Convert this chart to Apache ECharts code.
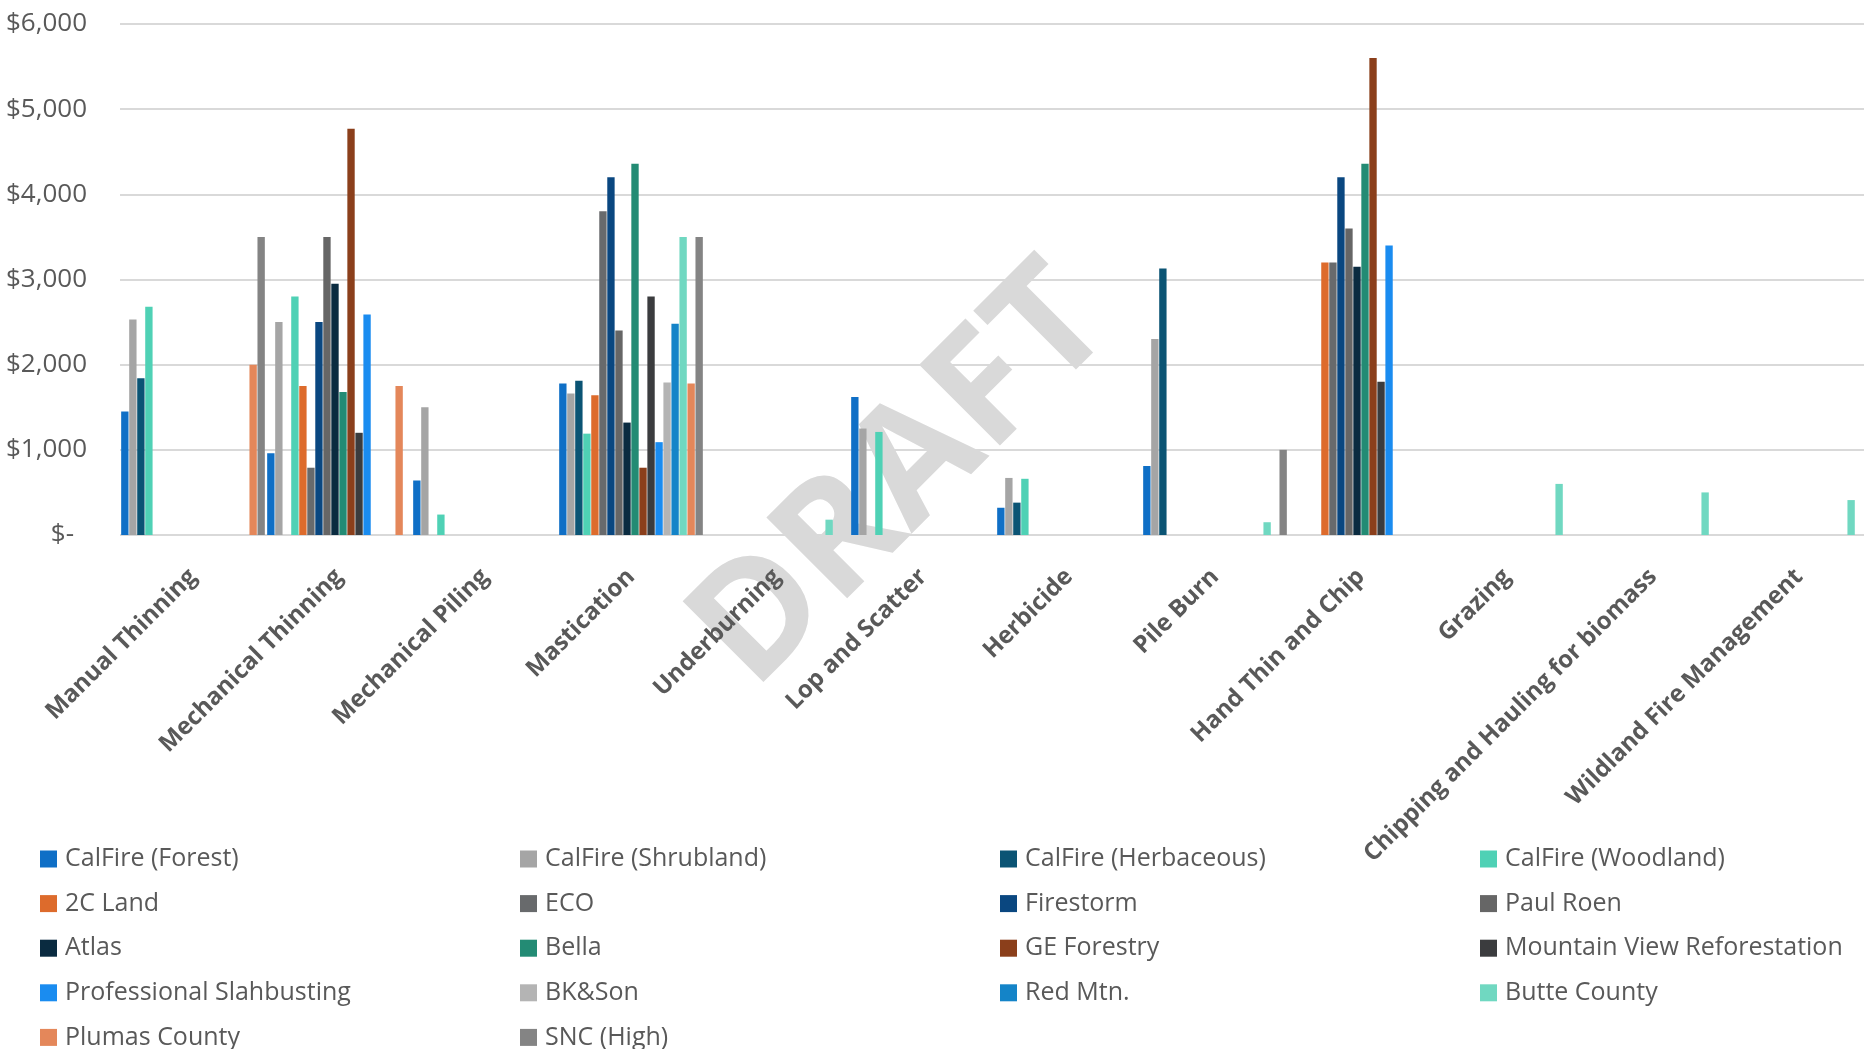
<!DOCTYPE html>
<html>
<head>
<meta charset="utf-8">
<title>Treatment Cost per Acre by Provider</title>
<script src="https://cdn.jsdelivr.net/npm/echarts@6/dist/echarts.min.js"></script>
<style>
  html, body { margin: 0; padding: 0; background: #ffffff; }
  #chart { width: 1864px; height: 1049px; }
</style>
</head>
<body>
<div id="chart"></div>
<script>
// Treatment types (x axis)
const categories = [
  'Manual Thinning', 'Mechanical Thinning', 'Mechanical Piling', 'Mastication',
  'Underburning', 'Lop and Scatter', 'Herbicide', 'Pile Burn',
  'Hand Thin and Chip', 'Grazing', 'Chipping and Hauling for biomass',
  'Wildland Fire Management'
];

// Cost per acre for each provider, one value per treatment (null = no quote)
const calFireForest     = [1450, 960, 640, 1780, null, 1620, 320, 810, null, null, null, null];
const calFireShrubland  = [2530, 2500, 1500, 1660, null, 1250, 670, 2300, null, null, null, null];
const calFireHerbaceous = [1840, null, null, 1810, null, null, 380, 3130, null, null, null, null];
const calFireWoodland   = [2680, 2800, 240, 1190, null, 1210, 660, null, null, null, null, null];
const twoCLand          = [null, 1750, null, 1640, null, null, null, null, 3200, null, null, null];
const eco               = [null, 790, null, 3800, null, null, null, null, 3200, null, null, null];
const firestorm         = [null, 2500, null, 4200, null, null, null, null, 4200, null, null, null];
const paulRoen          = [null, 3500, null, 2400, null, null, null, null, 3600, null, null, null];
const atlas             = [null, 2950, null, 1320, null, null, null, null, 3150, null, null, null];
const bella             = [null, 1680, null, 4360, null, null, null, null, 4360, null, null, null];
const geForestry        = [null, 4770, null, 790, null, null, null, null, 5600, null, null, null];
const mountainView      = [null, 1200, null, 2800, null, null, null, null, 1800, null, null, null];
const proSlashbusting   = [null, 2590, null, 1090, null, null, null, null, 3400, null, null, null];
const bkSon             = [null, null, null, 1790, null, null, null, null, null, null, null, null];
const redMtn            = [null, null, null, 2480, null, null, null, null, null, null, null, null];
const butteCounty       = [null, null, null, 3500, 180, null, null, 150, null, 600, 500, 410];
const plumasCounty      = [2000, 1750, null, 1780, null, null, null, null, null, null, null, null];
const sncHigh           = [3500, null, null, 3500, null, null, null, 1000, null, null, null, null];

// Y axis ticks
const yTicks = [0, 1000, 2000, 3000, 4000, 5000, 6000];

const providers = [
  { name: 'CalFire (Forest)',            values: calFireForest,     color: '#0f6fc6' },
  { name: 'CalFire (Shrubland)',         values: calFireShrubland,  color: '#a5a5a5' },
  { name: 'CalFire (Herbaceous)',        values: calFireHerbaceous, color: '#0b5474' },
  { name: 'CalFire (Woodland)',          values: calFireWoodland,   color: '#4fd1b5' },
  { name: '2C Land',                     values: twoCLand,          color: '#dd6b2c' },
  { name: 'ECO',                         values: eco,               color: '#686a6c' },
  { name: 'Firestorm',                   values: firestorm,         color: '#0a4780' },
  { name: 'Paul Roen',                   values: paulRoen,          color: '#666666' },
  { name: 'Atlas',                       values: atlas,             color: '#0a2b40' },
  { name: 'Bella',                       values: bella,             color: '#238b74' },
  { name: 'GE Forestry',                 values: geForestry,        color: '#8b3f1b' },
  { name: 'Mountain View Reforestation', values: mountainView,      color: '#3b3c3e' },
  { name: 'Professional Slahbusting',    values: proSlashbusting,   color: '#1a8cf0' },
  { name: 'BK&Son',                      values: bkSon,             color: '#b4b4b4' },
  { name: 'Red Mtn.',                    values: redMtn,            color: '#1484c8' },
  { name: 'Butte County',                values: butteCounty,       color: '#70d8c1' },
  { name: 'Plumas County',               values: plumasCounty,      color: '#e4875a' },
  { name: 'SNC (High)',                  values: sncHigh,           color: '#848484' }
];

const textColor = '#595959';
const fontFamily = '"Open Sans", "Noto Sans", sans-serif';

function money(v) {
  if (v === 0) return '{z|$-}';
  return '$' + v.toLocaleString('en-US');
}

// Legend grid: four columns, filled row by row, one entry per legend box
const legendCols = 4;
const legendColWidth = 480;
const legendRowHeight = 44.6;

const chart = echarts.init(document.getElementById('chart'), null, { renderer: 'canvas' });

chart.setOption({
  backgroundColor: '#ffffff',
  animation: false,
  textStyle: { fontFamily: fontFamily },
  grid: {
    left: 120,
    top: 24,
    width: 1752,
    height: 511,
    containLabel: false,
    outerBoundsMode: 'none'
  },
  legend: providers.map((p, i) => ({
    left: 40 + legendColWidth * (i % legendCols),
    top: 846 + legendRowHeight * Math.floor(i / legendCols),
    padding: 0,
    data: [p.name],
    icon: 'rect',
    itemWidth: 17,
    itemHeight: 17,
    selectedMode: false,
    textStyle: {
      color: textColor,
      fontFamily: fontFamily,
      fontSize: 25,
      lineHeight: 26,
      padding: [0, 0, 0, 3]
    }
  })),
  xAxis: {
    type: 'category',
    data: categories,
    z: 5,
    axisLine: { show: false },
    axisTick: { show: false },
    axisLabel: {
      interval: 0,
      rotate: 45,
      margin: 38,
      color: textColor,
      fontFamily: fontFamily,
      fontSize: 24,
      fontWeight: 'bold'
    }
  },
  yAxis: {
    type: 'value',
    z: 0,
    min: yTicks[0],
    max: yTicks[yTicks.length - 1],
    interval: yTicks[1] - yTicks[0],
    axisLine: { show: false },
    axisTick: { show: false },
    splitLine: { lineStyle: { color: '#d9d9d9', width: 2 } },
    axisLabel: {
      margin: 33,
      color: textColor,
      fontFamily: fontFamily,
      fontSize: 26,
      formatter: money,
      rich: {
        z: { color: textColor, fontFamily: fontFamily, fontSize: 26, padding: [0, 13, 0, 0] }
      }
    }
  },
  graphic: [{
    type: 'text',
    x: 903,
    y: 478,
    rotation: Math.PI / 4,
    z: 1,
    silent: true,
    style: {
      text: 'DRAFT',
      fill: '#d9d9d9',
      font: 'bold 160px "Open Sans", sans-serif',
      align: 'center',
      verticalAlign: 'middle'
    }
  }],
  series: providers.map(p => ({
    name: p.name,
    type: 'bar',
    data: p.values,
    barGap: '9%',
    barCategoryGap: '1.6%',
    z: 3,
    itemStyle: { color: p.color }
  }))
});
</script>
</body>
</html>
